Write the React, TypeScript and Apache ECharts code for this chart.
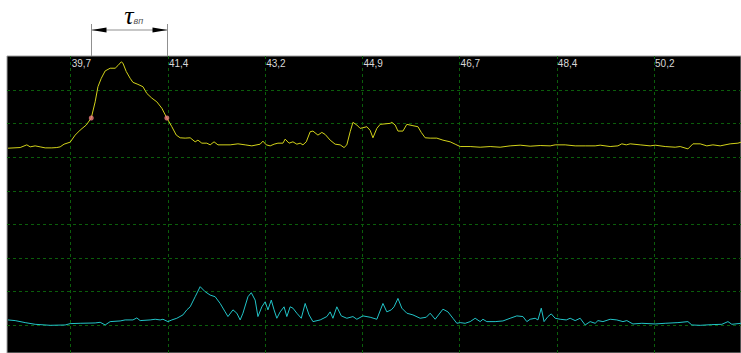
import React, { useEffect, useRef } from "react";
import * as echarts from "echarts";

// time axis ticks
const xTickValues = [39.7, 41.45, 43.2, 44.95, 46.7, 48.45, 50.2];
const xTickLabels = ["39,7", "41,4", "43,2", "44,9", "46,7", "48,4", "50,2"];
const yTickValues = [0, 10, 20, 30, 40, 50, 60, 70];

// upper (yellow) trace
const yellowT = [
  38.57, 38.79, 38.91, 38.97, 39.06, 39.15, 39.24, 39.36, 39.45, 39.51, 39.58, 39.69, 39.78, 39.87, 39.98,
  40.07, 40.14, 40.19, 40.25, 40.32, 40.41, 40.5, 40.55, 40.61, 40.64, 40.7, 40.77, 40.82, 40.91, 41.0,
  41.07, 41.16, 41.25, 41.34, 41.43, 41.52, 41.6, 41.67, 41.76, 41.85, 41.94, 41.99, 42.06, 42.15, 42.21,
  42.28, 42.35, 42.57, 42.71, 42.84, 42.96, 43.11, 43.16, 43.22, 43.29, 43.36, 43.43, 43.52, 43.56, 43.63,
  43.7, 43.77, 43.83, 43.88, 43.94, 44.01, 44.06, 44.15, 44.22, 44.28, 44.37, 44.46, 44.55, 44.62, 44.67,
  44.73, 44.78, 44.85, 44.91, 44.96, 45.03, 45.09, 45.14, 45.21, 45.27, 45.45, 45.48, 45.54, 45.59, 45.68,
  45.75, 45.86, 45.95, 46.01, 46.08, 46.17, 46.29, 46.4, 46.53, 46.62, 46.71, 46.89, 47.07, 47.25, 47.43,
  47.61, 47.79, 47.97, 48.15, 48.33, 48.42, 48.6, 48.78, 48.96, 49.14, 49.23, 49.41, 49.55, 49.62, 49.7,
  49.77, 49.95, 50.13, 50.22, 50.4, 50.58, 50.67, 50.81, 50.9, 51.03, 51.15, 51.26, 51.39, 51.57, 51.71, 51.77,
];
const yellowV = [
  52.7, 52.9, 53.7, 53.1, 53.4, 53.1, 52.8, 52.8, 52.9, 53.1, 53.9, 54.5, 56.6, 58.1, 59.6,
  61.7, 66.5, 71.0, 73.5, 75.7, 76.5, 76.5, 77.3, 78.4, 78.0, 75.5, 73.5, 72.3, 71.7, 71.0,
  69.0, 67.6, 66.5, 64.6, 61.7, 59.1, 56.6, 55.8, 55.7, 55.8, 54.6, 55.1, 54.2, 54.2, 53.7,
  54.6, 53.7, 53.7, 54.0, 53.7, 53.4, 53.9, 54.8, 53.7, 53.4, 53.9, 54.2, 54.2, 55.4, 54.2,
  54.6, 53.9, 54.2, 53.7, 54.6, 57.6, 57.8, 56.6, 57.4, 56.8, 55.1, 53.9, 53.7, 52.9, 53.7,
  57.6, 60.4, 59.6, 58.6, 58.8, 59.1, 58.0, 55.8, 58.6, 59.8, 60.1, 60.4, 59.6, 57.8, 57.8,
  59.8, 59.4, 59.1, 57.4, 55.8, 55.7, 55.7, 55.1, 54.6, 53.9, 53.2, 53.2, 53.0, 53.2, 53.0,
  53.4, 53.6, 53.3, 53.5, 53.4, 53.7, 53.7, 53.4, 53.4, 53.4, 53.6, 53.2, 53.4, 54.0, 53.7,
  54.0, 53.7, 53.4, 53.6, 53.2, 53.0, 53.2, 52.5, 54.0, 54.0, 53.4, 53.7, 53.4, 54.0, 54.2, 54.5,
];

// lower (cyan) trace
const cyanT = [
  38.57, 38.7, 38.88, 39.06, 39.33, 39.6, 39.69, 39.87, 40.14, 40.23, 40.32, 40.41, 40.59, 40.68, 40.82,
  40.89, 40.95, 41.13, 41.22, 41.31, 41.36, 41.45, 41.52, 41.61, 41.72, 41.79, 41.85, 41.94, 42.03, 42.12,
  42.21, 42.3, 42.39, 42.48, 42.53, 42.62, 42.69, 42.75, 42.8, 42.89, 42.95, 43.02, 43.07, 43.14, 43.2,
  43.25, 43.31, 43.36, 43.41, 43.47, 43.54, 43.59, 43.65, 43.7, 43.77, 43.85, 43.92, 43.99, 44.06, 44.19,
  44.31, 44.37, 44.42, 44.49, 44.57, 44.67, 44.78, 44.85, 44.96, 45.09, 45.21, 45.32, 45.39, 45.47, 45.52,
  45.59, 45.66, 45.75, 45.86, 45.99, 46.1, 46.17, 46.26, 46.4, 46.49, 46.58, 46.65, 46.71, 46.8, 46.89,
  46.98, 47.07, 47.12, 47.19, 47.34, 47.48, 47.61, 47.73, 47.84, 47.91, 47.97, 48.06, 48.11, 48.17, 48.22,
  48.29, 48.35, 48.42, 48.51, 48.62, 48.69, 48.78, 48.87, 48.96, 49.05, 49.14, 49.19, 49.28, 49.41, 49.53,
  49.64, 49.71, 49.82, 49.98, 50.22, 50.4, 50.63, 50.81, 50.88, 51.03, 51.24, 51.42, 51.53, 51.6, 51.77,
];
const cyanV = [
  1.6, 1.4, 0.8, 0.3, 0.0, 0.1, 0.5, 0.6, 0.7, 0.9, 0.1, 1.1, 1.3, 1.6, 1.6,
  2.2, 1.4, 1.6, 1.8, 1.6, 1.8, 1.1, 1.6, 2.1, 3.1, 4.6, 5.5, 8.5, 11.5, 10.0,
  9.0, 8.5, 6.5, 4.0, 2.6, 4.6, 3.6, 1.6, 3.6, 8.5, 9.7, 7.5, 2.6, 5.5, 7.0,
  4.6, 7.5, 4.6, 2.1, 4.0, 5.5, 2.6, 5.5, 5.1, 3.6, 2.1, 6.5, 3.1, 1.1, 1.6,
  2.6, 4.0, 2.1, 5.5, 2.8, 2.1, 2.6, 1.8, 2.8, 2.4, 1.8, 6.5, 4.0, 4.6, 5.5,
  8.0, 5.1, 3.6, 3.1, 2.1, 2.4, 3.6, 1.8, 4.8, 4.0, 2.1, 0.6, 0.8, 0.6, 1.1,
  2.1, 1.1, 1.8, 1.1, 1.1, 1.3, 2.1, 2.8, 2.6, 1.1, 1.8, 2.1, 1.6, 5.1, 1.1,
  2.6, 3.4, 2.1, 1.8, 1.6, 2.1, 1.4, 2.1, 0.1, 1.1, 0.6, 1.4, 1.1, 1.8, 1.6,
  1.1, 1.4, 0.4, 0.6, 0.4, 0.6, 0.8, 1.1, 0.1, 0.0, 0.2, 0.3, 1.1, 0.3, 0.6,
];

// markers at the pulse-width level
const markerT = [40.07, 41.43];
const markerV = [61.7, 61.7];
const pulseLabel = "τ";
const pulseSub = "вп";

export default function App() {
  const ref = useRef<HTMLDivElement>(null);
  useEffect(() => {
    if (!ref.current) return;
    const chart = echarts.init(ref.current, null, { renderer: "svg" });
    const gridColor = "#0b5e0b";
    chart.setOption({
      animation: false,
      backgroundColor: "#ffffff",
      grid: {
        left: 7,
        right: 0,
        top: 56,
        bottom: 0,
        show: true,
        backgroundColor: "#000000",
        borderColor: "#a0a0a0",
        borderWidth: 1,
      },
      xAxis: {
        type: "value",
        position: "top",
        min: 38.553,
        max: 51.765,
        axisLine: { show: false },
        axisTick: { show: false, customValues: xTickValues },
        axisLabel: {
          show: true,
          inside: true,
          customValues: xTickValues,
          margin: 2,
          align: "left",
          verticalAlign: "top",
          padding: [0, 0, 0, 1],
          color: "#d8d8d8",
          fontFamily: "Liberation Sans, Arial, sans-serif",
          fontSize: 10,
          formatter: (val: number) => {
            let best = 0;
            xTickValues.forEach((v, i) => {
              if (Math.abs(v - val) < Math.abs(xTickValues[best] - val)) best = i;
            });
            return xTickLabels[best];
          },
        },
        splitLine: { show: true, lineStyle: { color: gridColor, width: 1, type: [3, 3] } },
      },
      yAxis: {
        type: "value",
        min: -8.24,
        max: 80.14,
        axisLine: { show: false },
        axisTick: { show: false, customValues: yTickValues },
        axisLabel: { show: false },
        splitLine: { show: true, lineStyle: { color: gridColor, width: 1, type: [3, 3] } },
      },
      series: [
        {
          type: "line",
          data: yellowT.map((t, i) => [t, yellowV[i]]),
          showSymbol: false,
          lineStyle: { color: "#d2d21a", width: 1 },
          z: 3,
        },
        {
          type: "line",
          data: cyanT.map((t, i) => [t, cyanV[i]]),
          showSymbol: false,
          lineStyle: { color: "#22c4c8", width: 1 },
          z: 3,
        },
        {
          type: "scatter",
          data: markerT.map((t, i) => [t, markerV[i]]),
          symbolSize: 5,
          itemStyle: { color: "#f08080" },
          z: 4,
        },
      ],
    });

    const p0 = chart.convertToPixel({ gridIndex: 0 }, [markerT[0], markerV[0]]) as number[];
    const p1 = chart.convertToPixel({ gridIndex: 0 }, [markerT[1], markerV[1]]) as number[];
    const topY = chart.convertToPixel({ gridIndex: 0 }, [markerT[0], 80.14]) as number[];
    const x0 = Math.round(p0[0]) + 0.5;
    const x1 = Math.round(p1[0]) + 0.5;
    const gy = topY[1];
    const ay = 30;
    const mid = (x0 + x1) / 2;
    chart.setOption({
      graphic: [
        { type: "line", shape: { x1: x0, y1: 24, x2: x0, y2: gy }, style: { stroke: "#909090", lineWidth: 1 } },
        { type: "line", shape: { x1: x1, y1: 24, x2: x1, y2: gy }, style: { stroke: "#909090", lineWidth: 1 } },
        { type: "line", shape: { x1: x0, y1: ay, x2: x1, y2: ay }, style: { stroke: "#909090", lineWidth: 1 } },
        {
          type: "polygon",
          shape: { points: [[x0, ay], [x0 + 15, ay - 2.5], [x0 + 15, ay + 2.5]] },
          style: { fill: "#000000" },
        },
        {
          type: "polygon",
          shape: { points: [[x1, ay], [x1 - 15, ay - 2.5], [x1 - 15, ay + 2.5]] },
          style: { fill: "#000000" },
        },
        {
          type: "text",
          x: mid + 4,
          y: 15,
          style: {
            text: pulseLabel,
            fill: "#000000",
            font: "italic 26px 'Liberation Serif', serif",
            align: "right",
            verticalAlign: "middle",
          },
        },
        {
          type: "text",
          x: mid + 4,
          y: 20.5,
          style: {
            text: pulseSub,
            fill: "#555555",
            font: "italic 9px 'Liberation Sans', Arial, sans-serif",
            align: "left",
            verticalAlign: "middle",
          },
        },
      ],
    });
    return () => chart.dispose();
  }, []);
  return <div ref={ref} style={{ position: "fixed", left: 0, top: 0, width: 741, height: 353 }} />;
}
